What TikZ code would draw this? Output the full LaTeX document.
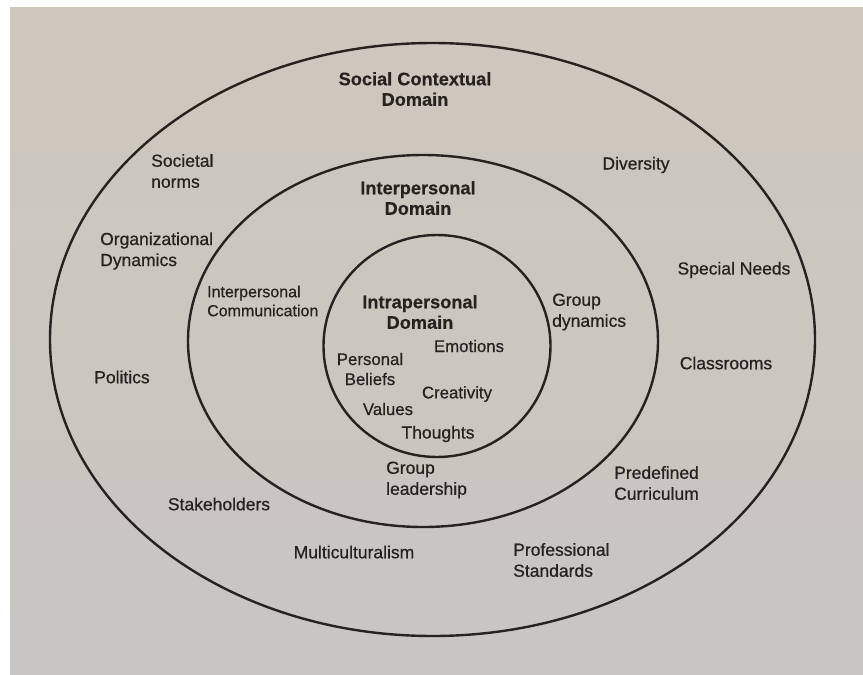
\documentclass[tikz,border=0pt]{standalone}
\usepackage{fontspec}
\setmainfont{Liberation Sans}[FakeBold=0.6, BoldFeatures={FakeBold=0.5}]
\definecolor{ink}{RGB}{38,34,31}
\definecolor{paperTop}{RGB}{206,199,189}
\definecolor{paperBot}{RGB}{199,198,194}
\begin{document}
\begin{tikzpicture}[x=1pt,y=-1pt,
  ring/.style={draw=ink, line width=2.4pt},
  lbl/.style={text=ink, inner sep=0pt, font=\fontsize{17.5}{21}\selectfont},
  lblin/.style={text=ink, inner sep=0pt, font=\fontsize{16.8}{20}\selectfont},
  lblsm/.style={text=ink, inner sep=0pt, font=\fontsize{16}{19}\selectfont},
  title/.style={text=ink, inner sep=0pt, font=\bfseries\fontsize{18.2}{20.5}\selectfont, align=center},
  twoleft/.style={align=left, anchor=west}]
\useasboundingbox (0,0) rectangle (863,675);
\fill[white] (0,0) rectangle (863,675);
\shade[top color=paperTop, bottom color=paperBot] (10,7) rectangle (863,675);
% rings
\draw[ring] (432.5,339.5) ellipse [x radius=382.5, y radius=296.5];
\draw[ring] (423,341) ellipse [x radius=235, y radius=186];
\draw[ring] (437,346) ellipse [x radius=113.5, y radius=111];
% titles
\node[title] (social) at (415,89) {Social Contextual\\Domain};
\node[title] (inter) at (418,198) {Interpersonal\\Domain};
\node[title] (intra) at (420,312) {Intrapersonal\\Domain};
% outer ring labels
\node[lbl, twoleft] (societal) at (151,171) {Societal\\norms};
\node[lbl] (diversity) at (636,165) {Diversity};
\node[lbl, twoleft] (org) at (100,251) {Organizational\\Dynamics};
\node[lbl] (special) at (734,270) {Special Needs};
\node[lbl] (politics) at (122,377) {Politics};
\node[lbl] (class) at (726,363) {Classrooms};
\node[lbl, twoleft] (curric) at (614,483) {Predefined\\Curriculum};
\node[lbl] (stake) at (219,504) {Stakeholders};
\node[lbl] (multi) at (354,552) {Multiculturalism};
\node[lbl, twoleft] (prof) at (513,560) {Professional\\Standards};
% middle ring labels
\node[lblsm, twoleft] (comm) at (207,301) {Interpersonal\\Communication};
\node[lbl, twoleft] (gdyn) at (552,312) {Group\\dynamics};
\node[lbl, twoleft] (glead) at (386,480) {Group\\leadership};
% inner labels
\node[lblin] (emotions) at (469,346) {Emotions};
\node[lblin, align=center] (beliefs) at (370,369) {Personal\\Beliefs};
\node[lblin] (creativity) at (457,394) {Creativity};
\node[lblin] (values) at (388,409) {Values};
\node[lbl] (thoughts) at (438,434) {Thoughts};
\end{tikzpicture}
\end{document}
